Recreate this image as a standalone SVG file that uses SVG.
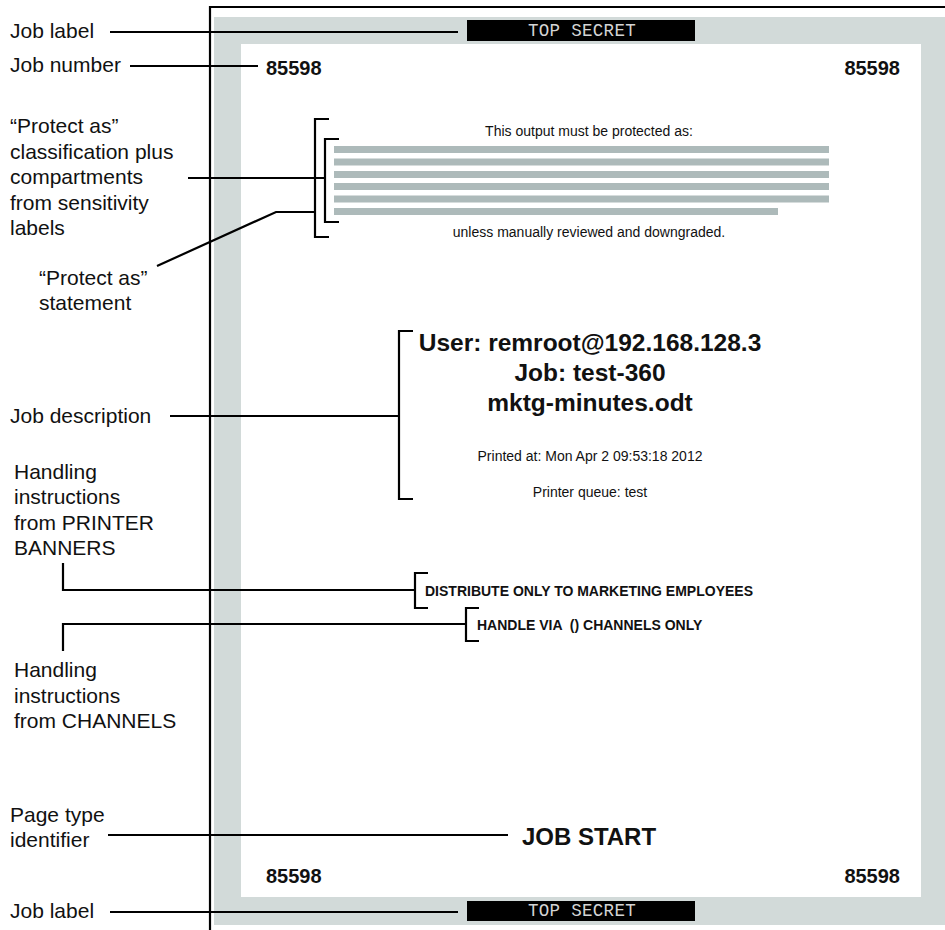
<svg xmlns="http://www.w3.org/2000/svg" width="945" height="930" viewBox="0 0 945 930">
<style>
.lbl{font-family:"Liberation Sans",Arial,sans-serif;font-size:21px;fill:#111}
.num{font-family:"Liberation Sans",Arial,sans-serif;font-size:20px;font-weight:bold;fill:#111}
.sm{font-family:"Liberation Sans",Arial,sans-serif;font-size:14px;fill:#111;text-anchor:middle}
.big{font-family:"Liberation Sans",Arial,sans-serif;font-size:24.5px;font-weight:bold;fill:#111;text-anchor:middle}
.caps{font-family:"Liberation Sans",Arial,sans-serif;font-size:14px;font-weight:bold;fill:#111}
.ts{font-family:"Liberation Mono","Courier New",monospace;font-size:17.5px;fill:#d4d4d4;text-anchor:middle;letter-spacing:0.3px}
.ln{fill:none;stroke:#000;stroke-width:2.2}
.bar{fill:#adbaba}
</style>
<rect width="945" height="930" fill="#fff"/>
<g id="page">
<rect x="214" y="17" width="731" height="908" fill="#d2dad9"/>
<rect x="241" y="44" width="680" height="853" fill="#fff"/>
<path class="ln" d="M210,930 V7 H945"/>
</g>
<g id="top-label">
<rect x="467" y="20" width="228" height="21" fill="#000"/>
<text class="ts" x="582" y="36">TOP SECRET</text>
</g>
<g id="bottom-label">
<rect x="467" y="901" width="228" height="20" fill="#000"/>
<text class="ts" x="582" y="916">TOP SECRET</text>
</g>
<g id="job-numbers">
<text class="num" x="266" y="75">85598</text>
<text class="num" x="900" y="75" text-anchor="end">85598</text>
<text class="num" x="266" y="883">85598</text>
<text class="num" x="900" y="883" text-anchor="end">85598</text>
</g>
<g id="protect-block">
<text class="sm" x="589" y="136">This output must be protected as:</text>
<rect class="bar" x="334" y="146" width="495" height="7"/>
<rect class="bar" x="334" y="158.5" width="495" height="7"/>
<rect class="bar" x="334" y="171" width="495" height="7"/>
<rect class="bar" x="334" y="183" width="495" height="7"/>
<rect class="bar" x="334" y="195.5" width="495" height="7"/>
<rect class="bar" x="334" y="208" width="444" height="7"/>
<text class="sm" x="589" y="237">unless manually reviewed and downgraded.</text>
</g>
<g id="job-description">
<text class="big" x="590" y="351">User: remroot@192.168.128.3</text>
<text class="big" x="590" y="381">Job: test-360</text>
<text class="big" x="590" y="411">mktg-minutes.odt</text>
<text class="sm" x="590" y="461">Printed at: Mon Apr 2 09:53:18 2012</text>
<text class="sm" x="590" y="497">Printer queue: test</text>
</g>
<g id="handling">
<text class="caps" x="425" y="596">DISTRIBUTE ONLY TO MARKETING EMPLOYEES</text>
<text class="caps" x="477" y="630" xml:space="preserve">HANDLE VIA  () CHANNELS ONLY</text>
</g>
<g id="page-type">
<text class="big" x="589" y="845" style="font-size:24px">JOB START</text>
</g>
<g id="callout-labels">
<text class="lbl" x="10" y="38">Job label</text>
<text class="lbl" x="10" y="72">Job number</text>
<text class="lbl" x="10" y="133">“Protect as”</text>
<text class="lbl" x="10" y="158.5">classification plus</text>
<text class="lbl" x="10" y="184">compartments</text>
<text class="lbl" x="10" y="209.5">from sensitivity</text>
<text class="lbl" x="10" y="235">labels</text>
<text class="lbl" x="39" y="285">“Protect as”</text>
<text class="lbl" x="39" y="310">statement</text>
<text class="lbl" x="10" y="423">Job description</text>
<text class="lbl" x="14" y="478.5">Handling</text>
<text class="lbl" x="14" y="504">instructions</text>
<text class="lbl" x="14" y="529.5">from PRINTER</text>
<text class="lbl" x="14" y="555">BANNERS</text>
<text class="lbl" x="14" y="677">Handling</text>
<text class="lbl" x="14" y="702.5">instructions</text>
<text class="lbl" x="14" y="728">from CHANNELS</text>
<text class="lbl" x="10" y="822">Page type</text>
<text class="lbl" x="10" y="847">identifier</text>
<text class="lbl" x="10" y="918">Job label</text>
</g>
<g id="connectors">
<path class="ln" d="M110,32 H458"/>
<path class="ln" d="M130,66 H258"/>
<path class="ln" d="M188,178 H325"/>
<path class="ln" d="M329,119 H315 V237 H329"/>
<path class="ln" d="M339,139 H325 V222 H339"/>
<path class="ln" d="M157,266 L276,212 H315"/>
<path class="ln" d="M170,416 H399"/>
<path class="ln" d="M413,331 H399 V499 H413"/>
<path class="ln" d="M63,563 V590 H415"/>
<path class="ln" d="M428,573 H415 V608 H428"/>
<path class="ln" d="M63,651 V624 H466"/>
<path class="ln" d="M479,608 H466 V641 H479"/>
<path class="ln" d="M108,835 H508"/>
<path class="ln" d="M110,912 H458"/>
</g>
</svg>
